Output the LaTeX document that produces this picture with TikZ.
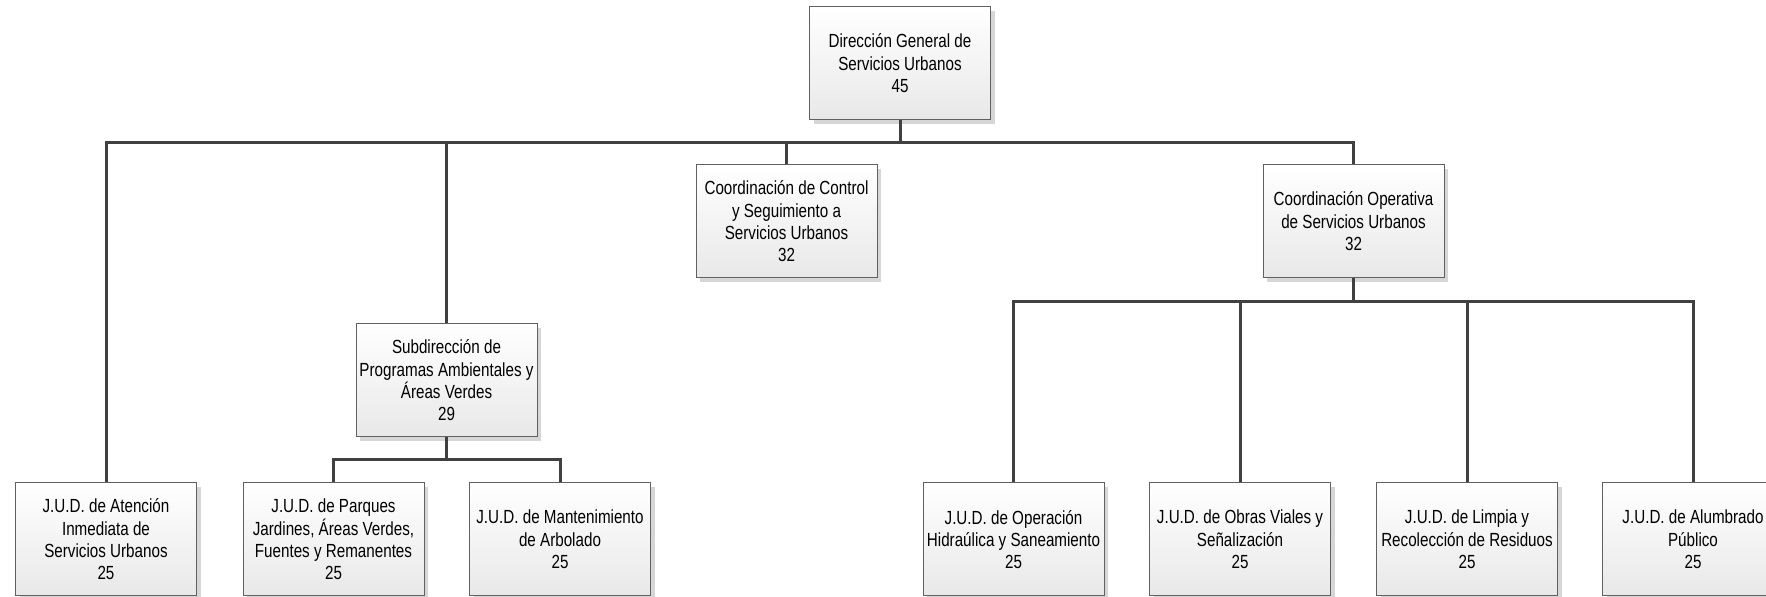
\documentclass[tikz,border=0pt]{standalone}
\usepackage{fontspec}
\setmainfont{Liberation Sans}[FakeStretch=0.8]
\usetikzlibrary{shadows}
\begin{document}
\begin{tikzpicture}[x=0.5pt,y=-0.5pt,
  box/.style={draw=black!62, line width=0.5pt, top color=white, bottom color=black!9,
    minimum width=90.5pt, minimum height=56.5pt, align=center, inner sep=1pt,
    font=\fontsize{9.5}{11.2}\selectfont,
    drop shadow={shadow xshift=2.2pt, shadow yshift=-2.2pt, fill=black!16, opacity=1}},
  link/.style={draw=black!75, line width=1.5pt}]
\useasboundingbox (0,0) rectangle (1766,597);
\coordinate (b0) at (0,143);
\coordinate (b1) at (0,302);
\coordinate (b2) at (0,460);
\node[box] (top) at (900,63.5) {Dirección General de\\Servicios Urbanos\\45};
\node[box] (cc) at (786.5,221.5) {Coordinación de Control\\y Seguimiento a\\Servicios Urbanos\\32};
\node[box] (co) at (1353.5,221.5) {Coordinación Operativa\\de Servicios Urbanos\\32};
\node[box] (sub) at (446.5,380.5) {Subdirección de\\Programas Ambientales y\\Áreas Verdes\\29};
\node[box] (j1) at (106,539.5) {J.U.D. de Atención\\Inmediata de\\Servicios Urbanos\\25};
\node[box] (j2) at (333.5,539.5) {J.U.D. de Parques\\Jardines, Áreas Verdes,\\Fuentes y Remanentes\\25};
\node[box] (j3) at (560,539.5) {J.U.D. de Mantenimiento\\de Arbolado\\25};
\node[box] (j4) at (1013.5,539.5) {J.U.D. de Operación\\Hidraúlica y Saneamiento\\25};
\node[box] (j5) at (1240,539.5) {J.U.D. de Obras Viales y\\Señalización\\25};
\node[box] (j6) at (1467,539.5) {J.U.D. de Limpia y\\Recolección de Residuos\\25};
\node[box] (j7) at (1693,539.5) {J.U.D. de Alumbrado\\Público\\25};
% level 1
\draw[link] (top.south) -- (top.south |- b0) -| (j1.north);
\draw[link] (top.south |- b0) -| (sub.north);
\draw[link] (top.south |- b0) -| (cc.north);
\draw[link] (top.south |- b0) -| (co.north);
% subdireccion
\draw[link] (sub.south) -- (sub.south |- b2) -| (j2.north);
\draw[link] (sub.south |- b2) -| (j3.north);
% coordinacion operativa
\draw[link] (co.south) -- (co.south |- b1) -| (j4.north);
\draw[link] (co.south |- b1) -| (j5.north);
\draw[link] (co.south |- b1) -| (j6.north);
\draw[link] (co.south |- b1) -| (j7.north);
\end{tikzpicture}
\end{document}
